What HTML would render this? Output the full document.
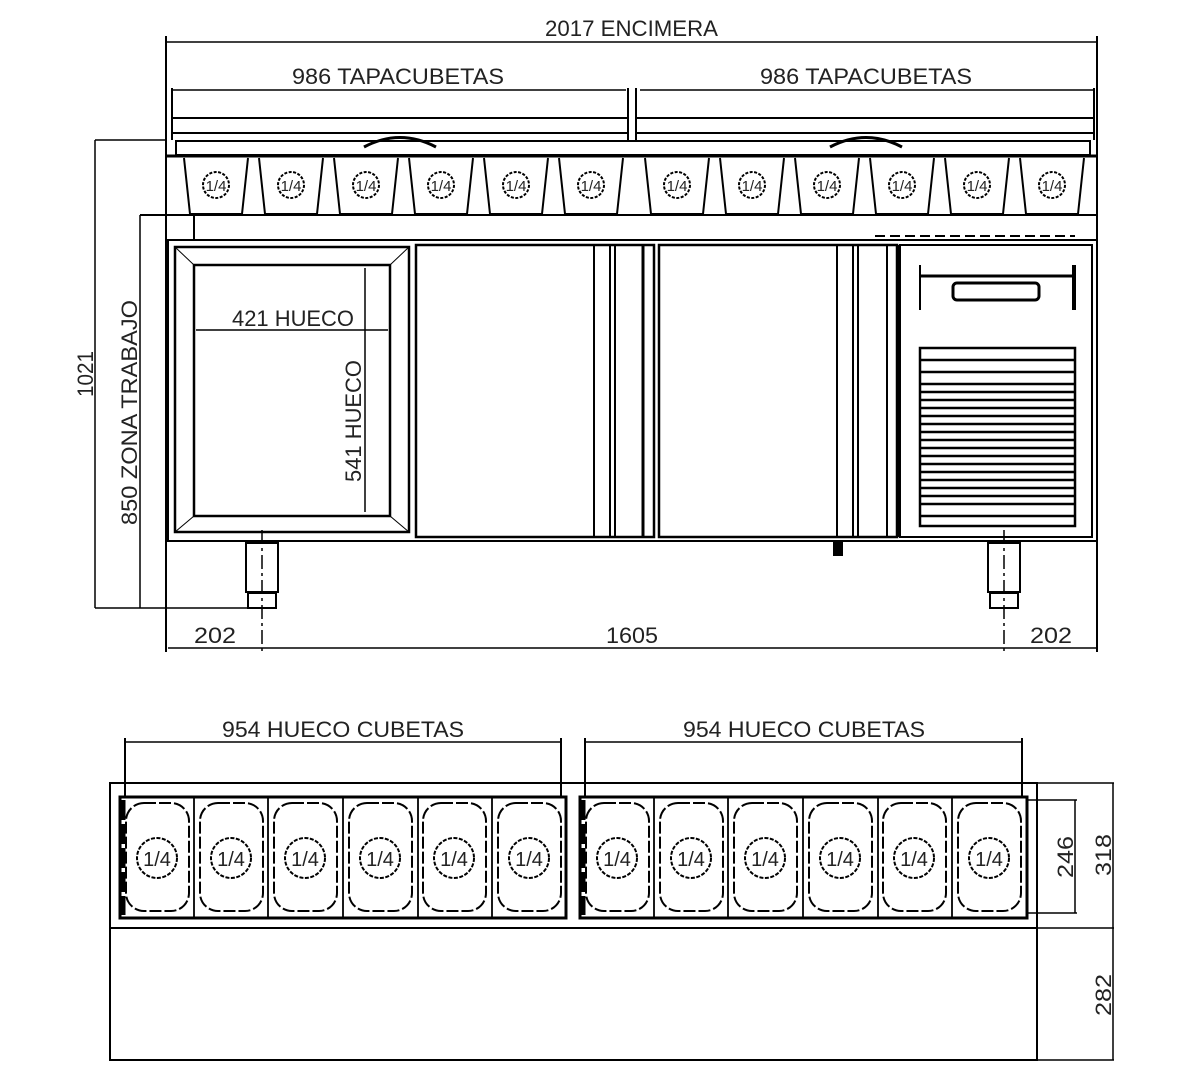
<!DOCTYPE html>
<html><head><meta charset="utf-8"><style>
html,body{margin:0;padding:0;background:#fff}
svg{display:block}
text{font-family:"Liberation Sans",sans-serif;fill:#222}
</style></head><body>
<svg width="1200" height="1080" viewBox="0 0 1200 1080" xmlns="http://www.w3.org/2000/svg">
<g fill="none" stroke="#000" stroke-width="2">
<!-- top dims -->
<line x1="166" y1="42" x2="1097" y2="42" stroke-width="1.5"/>
<line x1="166" y1="36" x2="166" y2="652"/>
<line x1="1097" y1="36" x2="1097" y2="652"/>
<line x1="172" y1="90" x2="626" y2="90" stroke-width="1.5"/>
<line x1="640" y1="90" x2="1094" y2="90" stroke-width="1.5"/>
<line x1="172" y1="88" x2="172" y2="140"/>
<line x1="628" y1="88" x2="628" y2="140"/>
<line x1="636" y1="88" x2="636" y2="140"/>
<line x1="1094" y1="88" x2="1094" y2="140"/>
<line x1="172" y1="118" x2="628" y2="118"/>
<line x1="636" y1="118" x2="1094" y2="118"/>
<line x1="172" y1="133" x2="628" y2="133"/>
<line x1="636" y1="133" x2="1094" y2="133"/>
<!-- rim -->
<rect x="176" y="141" width="914" height="14"/>
<line x1="166" y1="156" x2="1097" y2="156" stroke-width="3"/>
<line x1="95" y1="140" x2="166" y2="140" stroke-width="1.5"/>
<line x1="140" y1="215" x2="1097" y2="215" stroke-width="2"/>
<line x1="194" y1="215" x2="194" y2="240"/>
<path d="M875 236 H1075" stroke-dasharray="10 5"/>
<!-- lid handles -->
<path d="M364 147 Q400 128 436 147" stroke-width="3"/>
<path d="M830 147 Q866 128 902 147" stroke-width="3"/>
<!-- top pans -->
<path d="M184 158 L190 214 H242 L248 158"/><circle cx="216" cy="185" r="13" stroke-dasharray="3 1.5"/>
<path d="M259 158 L265 214 H317 L323 158"/><circle cx="291" cy="185" r="13" stroke-dasharray="3 1.5"/>
<path d="M334 158 L340 214 H392 L398 158"/><circle cx="366" cy="185" r="13" stroke-dasharray="3 1.5"/>
<path d="M409 158 L415 214 H467 L473 158"/><circle cx="441" cy="185" r="13" stroke-dasharray="3 1.5"/>
<path d="M484 158 L490 214 H542 L548 158"/><circle cx="516" cy="185" r="13" stroke-dasharray="3 1.5"/>
<path d="M559 158 L565 214 H617 L623 158"/><circle cx="591" cy="185" r="13" stroke-dasharray="3 1.5"/>
<path d="M645 158 L651 214 H703 L709 158"/><circle cx="677" cy="185" r="13" stroke-dasharray="3 1.5"/>
<path d="M720 158 L726 214 H778 L784 158"/><circle cx="752" cy="185" r="13" stroke-dasharray="3 1.5"/>
<path d="M795 158 L801 214 H853 L859 158"/><circle cx="827" cy="185" r="13" stroke-dasharray="3 1.5"/>
<path d="M870 158 L876 214 H928 L934 158"/><circle cx="902" cy="185" r="13" stroke-dasharray="3 1.5"/>
<path d="M945 158 L951 214 H1003 L1009 158"/><circle cx="977" cy="185" r="13" stroke-dasharray="3 1.5"/>
<path d="M1020 158 L1026 214 H1078 L1084 158"/><circle cx="1052" cy="185" r="13" stroke-dasharray="3 1.5"/>
<!-- body -->
<rect x="168" y="240" width="929" height="301"/>
<rect x="175" y="247" width="234" height="285" stroke-width="2.5"/>
<rect x="194" y="265" width="196" height="251" stroke-width="2.5"/>
<line x1="175" y1="247" x2="194" y2="265" stroke-width="1"/>
<line x1="409" y1="247" x2="390" y2="265" stroke-width="1"/>
<line x1="175" y1="532" x2="194" y2="516" stroke-width="1"/>
<line x1="409" y1="532" x2="390" y2="516" stroke-width="1"/>
<rect x="416" y="245" width="238" height="292" stroke-width="2.5"/>
<line x1="594" y1="245" x2="594" y2="537"/><line x1="610" y1="245" x2="610" y2="537"/><line x1="615" y1="245" x2="615" y2="537"/><line x1="643" y1="245" x2="643" y2="537" stroke-width="3"/>
<rect x="659" y="245" width="238" height="292" stroke-width="2.5"/>
<line x1="837" y1="245" x2="837" y2="537"/><line x1="853" y1="245" x2="853" y2="537"/><line x1="858" y1="245" x2="858" y2="537"/><line x1="887" y1="245" x2="887" y2="537"/><line x1="898" y1="245" x2="898" y2="537" stroke-width="4"/>
<rect x="900" y="245" width="192" height="292"/>
<line x1="920" y1="276" x2="1074" y2="276" stroke-width="3"/>
<line x1="920" y1="265" x2="920" y2="310"/><line x1="1074" y1="265" x2="1074" y2="310" stroke-width="4"/>
<rect x="953" y="283" width="86" height="17" rx="4" stroke-width="3"/>
<g stroke-width="2.5">
<rect x="920" y="348" width="155" height="178"/>
<line x1="920" y1="360" x2="1075" y2="360"/><line x1="920" y1="372" x2="1075" y2="372"/>
<line x1="920" y1="384" x2="1075" y2="384"/><line x1="920" y1="392" x2="1075" y2="392"/>
<line x1="920" y1="400" x2="1075" y2="400"/><line x1="920" y1="408" x2="1075" y2="408"/>
<line x1="920" y1="416" x2="1075" y2="416"/><line x1="920" y1="424" x2="1075" y2="424"/>
<line x1="920" y1="432" x2="1075" y2="432"/><line x1="920" y1="440" x2="1075" y2="440"/>
<line x1="920" y1="448" x2="1075" y2="448"/><line x1="920" y1="456" x2="1075" y2="456"/>
<line x1="920" y1="464" x2="1075" y2="464"/><line x1="920" y1="472" x2="1075" y2="472"/>
<line x1="920" y1="480" x2="1075" y2="480"/><line x1="920" y1="488" x2="1075" y2="488"/>
<line x1="920" y1="496" x2="1075" y2="496"/><line x1="920" y1="504" x2="1075" y2="504"/>
<line x1="920" y1="516" x2="1075" y2="516"/>
</g>
<rect x="834" y="541" width="8" height="14" fill="#000"/>
<!-- legs -->
<rect x="246" y="543" width="32" height="49"/><rect x="248" y="593" width="28" height="15"/>
<rect x="988" y="543" width="32" height="49"/><rect x="990" y="593" width="28" height="15"/>
<line x1="262" y1="530" x2="262" y2="652" stroke-dasharray="14 4 3 4" stroke-width="1.5"/>
<line x1="1004" y1="530" x2="1004" y2="652" stroke-dasharray="14 4 3 4" stroke-width="1.5"/>
<line x1="95" y1="608" x2="276" y2="608" stroke-width="1.5"/>
<!-- left dims -->
<line x1="95" y1="140" x2="95" y2="608" stroke-width="1.5"/>
<line x1="140" y1="215" x2="140" y2="608" stroke-width="1.5"/>
<!-- hueco dims -->
<line x1="196" y1="330" x2="388" y2="330" stroke-width="1.5"/>
<line x1="365" y1="268" x2="365" y2="512" stroke-width="1.5"/>
<!-- bottom dims -->
<line x1="168" y1="648" x2="1097" y2="648" stroke-width="1.5"/>
<!-- plan view -->
<line x1="125" y1="742" x2="560" y2="742" stroke-width="1.5"/>
<line x1="586" y1="742" x2="1022" y2="742" stroke-width="1.5"/>
<line x1="125" y1="738" x2="125" y2="797"/><line x1="561" y1="738" x2="561" y2="797"/>
<line x1="585" y1="738" x2="585" y2="797"/><line x1="1022" y1="738" x2="1022" y2="797"/>
<rect x="110" y="783" width="927" height="277"/>
<line x1="110" y1="928" x2="1037" y2="928"/>
<rect x="120" y="797" width="446" height="121" stroke-width="3"/>
<rect x="580" y="797" width="447" height="121" stroke-width="3"/>
<line x1="123" y1="800" x2="123" y2="915" stroke-width="5" stroke-dasharray="20 4"/>
<line x1="583" y1="800" x2="583" y2="915" stroke-width="5" stroke-dasharray="20 4"/>
<g stroke-width="1.8">
<line x1="194" y1="797" x2="194" y2="918"/><line x1="268" y1="797" x2="268" y2="918"/><line x1="343" y1="797" x2="343" y2="918"/><line x1="418" y1="797" x2="418" y2="918"/><line x1="492" y1="797" x2="492" y2="918"/>
<line x1="654" y1="797" x2="654" y2="918"/><line x1="728" y1="797" x2="728" y2="918"/><line x1="803" y1="797" x2="803" y2="918"/><line x1="878" y1="797" x2="878" y2="918"/><line x1="952" y1="797" x2="952" y2="918"/>
</g>
<g stroke-dasharray="12 3">
<rect x="126" y="803" width="63" height="108" rx="18"/><rect x="200" y="803" width="63" height="108" rx="18"/>
<rect x="274" y="803" width="63" height="108" rx="18"/><rect x="349" y="803" width="63" height="108" rx="18"/>
<rect x="423" y="803" width="63" height="108" rx="18"/><rect x="498" y="803" width="63" height="108" rx="18"/>
<rect x="586" y="803" width="63" height="108" rx="18"/><rect x="660" y="803" width="63" height="108" rx="18"/>
<rect x="734" y="803" width="63" height="108" rx="18"/><rect x="809" y="803" width="63" height="108" rx="18"/>
<rect x="883" y="803" width="63" height="108" rx="18"/><rect x="958" y="803" width="63" height="108" rx="18"/>
</g>
<g stroke-dasharray="4 1.5">
<circle cx="157" cy="858" r="20"/><circle cx="231" cy="858" r="20"/><circle cx="305" cy="858" r="20"/><circle cx="380" cy="858" r="20"/><circle cx="454" cy="858" r="20"/><circle cx="529" cy="858" r="20"/>
<circle cx="617" cy="858" r="20"/><circle cx="691" cy="858" r="20"/><circle cx="765" cy="858" r="20"/><circle cx="840" cy="858" r="20"/><circle cx="914" cy="858" r="20"/><circle cx="989" cy="858" r="20"/>
</g>
<line x1="1027" y1="800" x2="1077" y2="800" stroke-width="1.5"/>
<line x1="1027" y1="913" x2="1077" y2="913" stroke-width="1.5"/>
<line x1="1075" y1="800" x2="1075" y2="913" stroke-width="1.5"/>
<line x1="1037" y1="783" x2="1114" y2="783" stroke-width="1.5"/>
<line x1="1037" y1="928" x2="1114" y2="928" stroke-width="1.5"/>
<line x1="1037" y1="1060" x2="1114" y2="1060" stroke-width="1.5"/>
<line x1="1113" y1="783" x2="1113" y2="1060" stroke-width="1.5"/>
</g>
<!-- labels -->
<g font-size="22">
<text x="545" y="36" textLength="173" lengthAdjust="spacingAndGlyphs">2017 ENCIMERA</text>
<text x="292" y="84" textLength="212" lengthAdjust="spacingAndGlyphs">986 TAPACUBETAS</text>
<text x="760" y="84" textLength="212" lengthAdjust="spacingAndGlyphs">986 TAPACUBETAS</text>
<text x="232" y="326" textLength="122" lengthAdjust="spacingAndGlyphs">421 HUECO</text>
<text transform="translate(361,482) rotate(-90)" textLength="122" lengthAdjust="spacingAndGlyphs">541 HUECO</text>
<text transform="translate(93,397) rotate(-90)" textLength="46" lengthAdjust="spacingAndGlyphs">1021</text>
<text transform="translate(137,525) rotate(-90)" textLength="225" lengthAdjust="spacingAndGlyphs">850 ZONA TRABAJO</text>
<text x="194" y="643" textLength="42" lengthAdjust="spacingAndGlyphs">202</text>
<text x="606" y="643" textLength="52" lengthAdjust="spacingAndGlyphs">1605</text>
<text x="1030" y="643" textLength="42" lengthAdjust="spacingAndGlyphs">202</text>
<text x="222" y="737" textLength="242" lengthAdjust="spacingAndGlyphs">954 HUECO CUBETAS</text>
<text x="683" y="737" textLength="242" lengthAdjust="spacingAndGlyphs">954 HUECO CUBETAS</text>
<text transform="translate(1073,878) rotate(-90)" textLength="42" lengthAdjust="spacingAndGlyphs">246</text>
<text transform="translate(1111,876) rotate(-90)" textLength="42" lengthAdjust="spacingAndGlyphs">318</text>
<text transform="translate(1111,1016) rotate(-90)" textLength="42" lengthAdjust="spacingAndGlyphs">282</text>
</g>
<g font-size="15" text-anchor="middle">
<text x="216" y="191">1/4</text><text x="291" y="191">1/4</text><text x="366" y="191">1/4</text><text x="441" y="191">1/4</text><text x="516" y="191">1/4</text><text x="591" y="191">1/4</text>
<text x="677" y="191">1/4</text><text x="752" y="191">1/4</text><text x="827" y="191">1/4</text><text x="902" y="191">1/4</text><text x="977" y="191">1/4</text><text x="1052" y="191">1/4</text>
</g>
<g font-size="20" text-anchor="middle">
<text x="157" y="866">1/4</text><text x="231" y="866">1/4</text><text x="305" y="866">1/4</text><text x="380" y="866">1/4</text><text x="454" y="866">1/4</text><text x="529" y="866">1/4</text>
<text x="617" y="866">1/4</text><text x="691" y="866">1/4</text><text x="765" y="866">1/4</text><text x="840" y="866">1/4</text><text x="914" y="866">1/4</text><text x="989" y="866">1/4</text>
</g>
</svg>
</body></html>
